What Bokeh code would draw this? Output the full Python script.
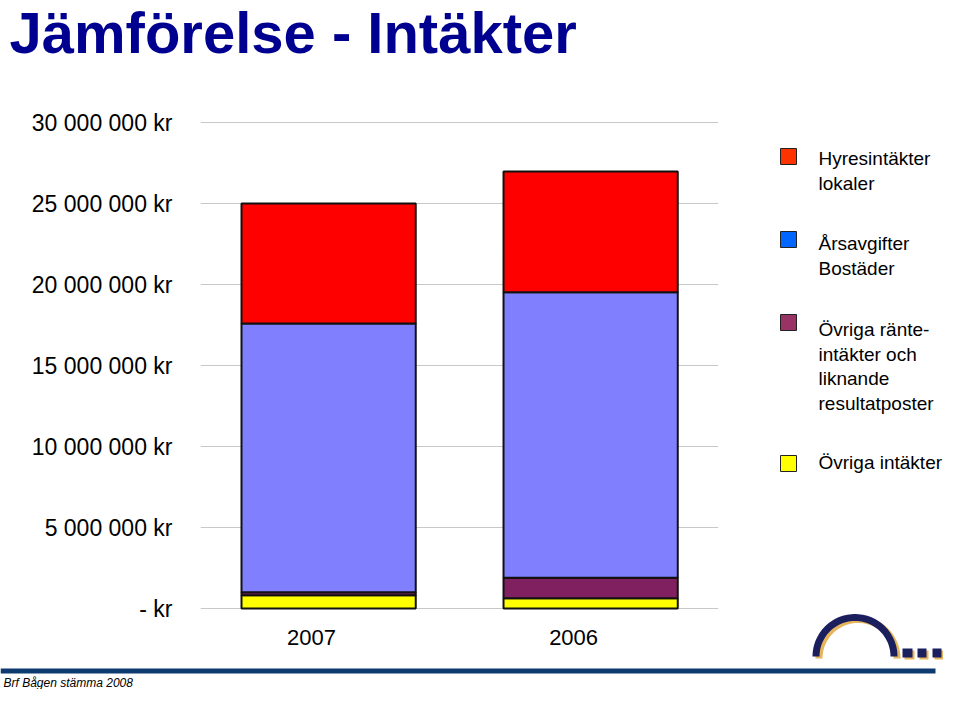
import numpy as np
from bokeh.plotting import figure
from bokeh.models import Range1d, FixedTicker, ColumnDataSource
from bokeh.layouts import column, row
from bokeh.core.properties import value
from bokeh.embed import file_html
from bokeh.resources import INLINE

# ---------------- data ----------------
years = ["2007", "2006"]
# stacked bottom -> top
ovriga_intakter = [820000, 640000]
ovriga_ranteintakter = [180000, 1260000]
arsavgifter_bostader = [16590000, 17620000]
hyresintakter_lokaler = [7410000, 7460000]

y_tick_values = [0, 5000000, 10000000, 15000000, 20000000, 25000000, 30000000]
y_tick_labels = ["- kr", "5 000 000 kr", "10 000 000 kr", "15 000 000 kr",
                 "20 000 000 kr", "25 000 000 kr", "30 000 000 kr"]

legend_labels = [
    ["Hyresintäkter", "lokaler"],
    ["Årsavgifter", "Bostäder"],
    ["Övriga ränte-", "intäkter och", "liknande", "resultatposter"],
    ["Övriga intäkter"],
]

title_text = "Jämförelse - Intäkter"
footer_text = "Brf Bågen stämma 2008"

# ---------------- styles / layout ----------------
FONT = "Liberation Sans"
bar_colors = ["#FFFF00", "#802060", "#8080FF", "#FF0000"]
legend_colors = ["#FF3300", "#0066FF", "#993366", "#FFFF00"]
NAVY = "#1B1F5E"
GOLD = "#E6B45A"
W = 943
H_TITLE, H_ROW, H_FOOT = 100, 560, 29
CHART_W = 740
LEG_W = W - CHART_W
B_TOP = 21
# value range: 0 at the x baseline, 30 MSEK 486 px above it; the frame also
# reaches 52 px below the baseline to leave room for the category labels
PX = 30000000 / 486.0
Y_MIN, Y_MAX = -52 * PX, 30000000 + 1 * PX
YEAR_LABEL_Y = -29 * PX


def blank(width, height):
    f = figure(width=width, height=height, x_range=Range1d(0, width),
               y_range=Range1d(height, 0), x_axis_type=None, y_axis_type=None,
               toolbar_location=None, output_backend="svg", min_border=0,
               outline_line_color=None, title=None)
    f.grid.visible = False
    return f

# ---------------- title ----------------
tf = blank(W, H_TITLE)
tf.text(x=[9], y=[32], text=[title_text], text_font=value(FONT),
        text_font_style="bold", text_font_size=value("58px"),
        text_color="#000090", text_baseline="middle", text_align="left")

# ---------------- chart ----------------
cp = figure(width=CHART_W, height=H_ROW, x_range=Range1d(0.076, 2.053),
            y_range=Range1d(Y_MIN, Y_MAX), x_axis_type=None,
            toolbar_location=None, output_backend="svg",
            min_border_left=200, min_border_right=22,
            min_border_top=B_TOP, min_border_bottom=0,
            outline_line_color=None, title=None)

x_cat = np.arange(len(years)) + 0.5
stack_keys = ["ovriga_intakter", "ovriga_ranteintakter",
              "arsavgifter_bostader", "hyresintakter_lokaler"]
source = ColumnDataSource(dict(
    xbar=x_cat + 0.065,
    ovriga_intakter=ovriga_intakter,
    ovriga_ranteintakter=ovriga_ranteintakter,
    arsavgifter_bostader=arsavgifter_bostader,
    hyresintakter_lokaler=hyresintakter_lokaler,
))
cp.vbar_stack(stack_keys, x="xbar", width=0.665, source=source,
              fill_color=bar_colors, line_color="#111111", line_width=2)

# category labels under the bars
cp.text(x=list(x_cat), y=[YEAR_LABEL_Y] * len(years), text=years,
        text_font=value(FONT), text_font_size=value("22px"),
        text_color="#000000", text_baseline="middle", text_align="center")

cp.yaxis.ticker = FixedTicker(ticks=y_tick_values)
cp.yaxis.major_label_overrides = {v: lab for v, lab in zip(y_tick_values, y_tick_labels)}
cp.yaxis.axis_line_color = None
cp.yaxis.major_tick_line_color = None
cp.yaxis.minor_tick_line_color = None
cp.yaxis.major_tick_out = 0
cp.yaxis.major_tick_in = 0
cp.yaxis.major_label_text_font = FONT
cp.yaxis.major_label_text_color = "#000000"
cp.yaxis.major_label_text_font_size = "23px"
cp.yaxis.major_label_standoff = 28
cp.ygrid.ticker = FixedTicker(ticks=y_tick_values)
cp.ygrid.grid_line_color = "#C8C8C8"
cp.ygrid.grid_line_width = 1

# ---------------- legend + logo (frame aligned with the chart frame) ----------------
lf = figure(width=LEG_W, height=H_ROW, x_range=Range1d(0, LEG_W),
            y_range=Range1d(H_ROW, B_TOP), x_axis_type=None,
            y_axis_type=None, toolbar_location=None, output_backend="svg",
            min_border_left=0, min_border_right=0, min_border_top=B_TOP,
            min_border_bottom=0, outline_line_color=None, title=None)
lf.grid.visible = False

sq_x0, sq_size = 40, 16
sq_centers = [56, 139, 222, 363]
first_line_y = [58, 143, 229, 362]
line_step = 24.5
lf.quad(left=[sq_x0] * 4, right=[sq_x0 + sq_size] * 4,
        top=[c - sq_size / 2 for c in sq_centers],
        bottom=[c + sq_size / 2 for c in sq_centers],
        fill_color=legend_colors, line_color="#222222", line_width=1)
tx, ty, tt = [], [], []
for y0, lines in zip(first_line_y, legend_labels):
    for i, ln in enumerate(lines):
        tx.append(78)
        ty.append(y0 + i * line_step)
        tt.append(ln)
lf.text(x=tx, y=ty, text=tt, text_font=value(FONT), text_font_size=value("19px"),
        text_color="#000000", text_baseline="middle", text_align="left")

# logo: arch + three squares with gold shadow
cx, cy, r_out, r_in = 114.5, 556, 42.5, 35.5
th = np.linspace(0, np.pi, 60)
arc_x = np.concatenate([cx + r_out * np.cos(th), cx + r_in * np.cos(th[::-1])])
arc_y = np.concatenate([cy - r_out * np.sin(th), cy - r_in * np.sin(th[::-1])])
lf.patch(arc_x + 3, arc_y + 2, fill_color=GOLD, line_color=None)
lf.patch(arc_x, arc_y, fill_color=NAVY, line_color=None)
sq_l = [162, 177, 192]
sq_r = [173, 187, 202]
lf.quad(left=[v + 2 for v in sq_l], right=[v + 1 for v in sq_r],
        top=[550] * 3, bottom=[559] * 3, fill_color=GOLD, line_color=None)
lf.quad(left=sq_l, right=[v - 1 for v in sq_r], top=[548] * 3, bottom=[557] * 3,
        fill_color=NAVY, line_color=None)

# ---------------- footer ----------------
ff = blank(W, H_FOOT)
ff.quad(left=[0], right=[935], top=[8], bottom=[13], fill_color="#0D3B70",
        line_color=None)
ff.text(x=[3], y=[22], text=[footer_text], text_font=value(FONT),
        text_font_style="italic", text_font_size=value("12px"),
        text_color="#000000", text_baseline="middle", text_align="left")

layout = column(tf, row(cp, lf), ff)
open("out.html", "w").write(file_html(layout, INLINE))
